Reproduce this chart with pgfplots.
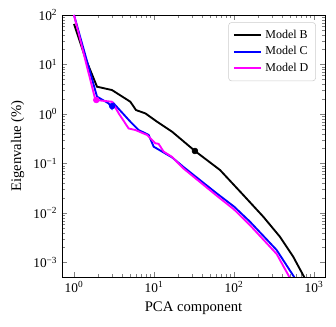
\documentclass[border=0pt]{standalone}
\usepackage{fontspec}
\setmainfont{Liberation Serif}
\usepackage{pgfplots}
\pgfplotsset{compat=1.18}

\definecolor{fuchsia}{rgb}{1,0,1}

\begin{document}
\begin{tikzpicture}
\begin{loglogaxis}[
    name=ax,
    scale only axis,
    width=197.25pt,
    height=196.5pt,
    xmin=0.708, xmax=1372,
    ymin=5.1e-4, ymax=100,
    xtick={1,10,100,1000},
    xticklabels={10\textsuperscript{0},10\textsuperscript{1},10\textsuperscript{2},10\textsuperscript{3}},
    ytick={1e-3,1e-2,1e-1,1,10,100},
    yticklabels={10\textsuperscript{−3},10\textsuperscript{−2},10\textsuperscript{−1},10\textsuperscript{0},10\textsuperscript{1},10\textsuperscript{2}},
    tick align=inside,
    tick pos=both,
    major tick length=3.5pt,
    minor tick length=2pt,
    tick label style={font=\fontsize{10}{12}\selectfont},
    label style={font=\fontsize{11}{13}\selectfont},
    xlabel={PCA component},
    ylabel={Eigenvalue (\%)},
    legend style={at={(0.965,0.972)}, anchor=north east, rounded corners=2pt,
        draw=black!20, font=\fontsize{9}{11}\selectfont,
        inner xsep=3pt, inner ysep=3pt,
        nodes={inner sep=2.4pt}},
    legend cell align=left,
    legend image code/.code={\draw[#1, line width=1.6pt] (0cm,0cm) -- (0.72cm,0cm);},
]
\addplot[color=black, line width=1.4pt] coordinates {
(1,66) (1.4,13) (1.94,3.56) (2.98,3.05) (5.06,1.77) (5.96,1.2) (7.8,1.03)
(10.9,0.70) (16.8,0.44) (32.5,0.179) (66.8,0.074) (130.6,0.0231)
(232,0.00843) (376,0.0033) (551,0.0013) (750,0.000516) (780,0.00045)
};
\addlegendentry{Model B}
\addplot[color=blue, line width=1.4pt] coordinates {
(1,100) (1.94,2.24) (2.71,1.64) (2.98,1.3) (3.13,1.64) (5.06,0.70)
(6.43,0.475) (8.58,0.377) (9.9,0.219) (16.8,0.133) (23.2,0.086)
(60.7,0.025) (100,0.0135) (158,0.0067) (341,0.00179) (562,0.000516) (590,0.00045)
};
\addlegendentry{Model C}
\addplot[color=fuchsia, line width=1.4pt] coordinates {
(1,100) (1.85,1.92) (2.98,1.77) (3.62,1.03) (4.82,0.51) (5.85,0.475)
(8.2,0.377) (10.4,0.256) (11.4,0.25) (13.2,0.174) (16.8,0.136) (23.2,0.080)
(60.7,0.0224) (100,0.0118) (158,0.0057) (341,0.00149) (490,0.000516) (510,0.00045)
};
\addlegendentry{Model D}
\addplot[black, only marks, mark=*, mark size=2.2pt, mark options={line width=0.4pt}, forget plot] coordinates {(32.5,0.179)};
\addplot[blue, only marks, mark=*, mark size=2.2pt, mark options={line width=0.4pt}, forget plot] coordinates {(3.0,1.45)};
\addplot[fuchsia, only marks, mark=*, mark size=2.2pt, mark options={line width=0.4pt}, forget plot] coordinates {(1.9,1.92)};
\end{loglogaxis}
\pgfresetboundingbox
\path (ax.south west) ++(-46.5pt,-37.5pt) coordinate (bl);
\path (ax.north east) ++(8.25pt,11.25pt) coordinate (tr);
\useasboundingbox (bl) rectangle (tr);
\end{tikzpicture}
\end{document}
